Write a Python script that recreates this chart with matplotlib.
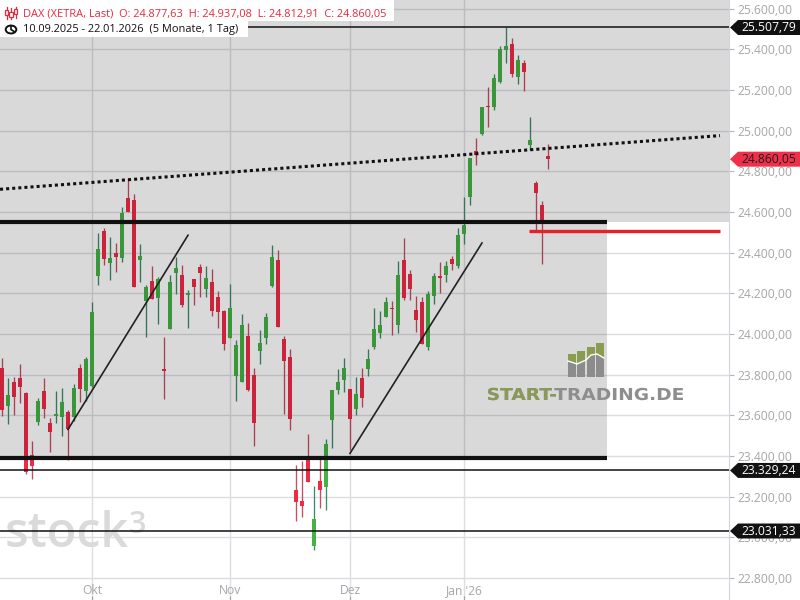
import matplotlib
matplotlib.use("Agg")
import matplotlib.pyplot as plt
from matplotlib.patches import Rectangle, Polygon, PathPatch, Circle
from matplotlib.lines import Line2D
from matplotlib.textpath import TextPath
from matplotlib.font_manager import FontProperties
from matplotlib.transforms import Affine2D, blended_transform_factory

plt.rcParams['font.family'] = ['Open Sans', 'DejaVu Sans']

# ---------------- data ----------------
opens = [23833, 23647, 23764, 23784, 23710, 23405, 23569, 23720, 23561, 23597,
         23592, 23615, 23593, 23833, 23721, 23746, 24287, 24505, 24351, 24398,
         24374, 24669, 24659, 24364, 24162, 24261, 24177, 23826, 24026, 24300,
         24290, 24192, 24271, 24330, 24221, 24256, 24182, 24115, 23980, 23793,
         23764, 23990, 23798, 23916, 23980, 24236, 24364, 23975, 23887, 23233,
         23178, 23390, 22957, 23277, 23247, 23577, 23724, 23774, 23729, 23631,
         23784, 23828, 23936, 24005, 24084, 24128, 24044, 24364, 24295, 24118,
         24157, 23936, 24187, 24285, 24290, 24369, 24334, 24492, 24674, 24900,
         24984, 25122, 25117, 25240, 25397, 25427, 25264, 25333, 24930, 24743,
         24635, 24877.63]
highs = [23882, 23784, 23788, 23852, 23716, 23474, 23685, 23784, 23587, 23720,
         23734, 23628, 23754, 23852, 23887, 24156, 24497, 24520, 24477, 24448,
         24625, 24768, 24689, 24443, 24241, 24334, 24280, 23985, 24290, 24379,
         24339, 24216, 24271, 24344, 24334, 24320, 24212, 24118, 24246, 23970,
         24098, 24054, 23833, 24020, 24103, 24438, 24413, 23990, 23926, 23356,
         23375, 23508, 23252, 23385, 23483, 23724, 23828, 23882, 23729, 23788,
         23833, 23926, 24128, 24113, 24182, 24162, 24359, 24472, 24315, 24187,
         24182, 24212, 24300, 24354, 24359, 24384, 24521, 24674, 24866, 24964,
         25117, 25215, 25279, 25417, 25507.79, 25456, 25372, 25348, 25067, 24753,
         24654, 24937.08]
lows = [23597, 23557, 23601, 23662, 23311, 23285, 23552, 23587, 23421, 23564,
        23500, 23382, 23573, 23667, 23672, 23741, 24243, 24341, 24267, 24305,
        24354, 24600, 24233, 24256, 23985, 24172, 24049, 23680, 24026, 24197,
        24133, 24030, 24143, 24182, 24182, 24089, 24030, 23921, 23980, 23670,
        23764, 23720, 23451, 23852, 23951, 24231, 24034, 23606, 23528, 23080,
        23100, 23272, 22937, 23144, 23134, 23439, 23705, 23715, 23429, 23601,
        23641, 23793, 23926, 23980, 24084, 23995, 24005, 24167, 24167, 24010,
        23951, 23921, 24148, 24202, 24256, 24315, 24325, 24443, 24635, 24831,
        24979, 25018, 25102, 25235, 25333, 25264, 25230, 25195, 24905, 24512,
        24344, 24812.91]
closes = [23628, 23700, 23690, 23741, 23322, 23352, 23670, 23632, 23519, 23605,
          23665, 23531, 23734, 23731, 23877, 24107, 24418, 24370, 24374, 24379,
          24594, 24600, 24233, 24384, 24231, 24172, 24271, 23820, 24256, 24325,
          24143, 24202, 24231, 24300, 24276, 24113, 24108, 23951, 24128, 23946,
          24044, 23724, 23564, 23956, 24084, 24379, 24034, 23867, 23582, 23173,
          23154, 23272, 23090, 23233, 23459, 23724, 23764, 23833, 23582, 23705,
          23685, 23877, 24025, 24044, 24157, 24123, 24290, 24177, 24221, 24069,
          23951, 24197, 24285, 24276, 24334, 24344, 24487, 24536, 24866, 24881,
          25117, 25117, 25259, 25402, 25417, 25279, 25348, 25289, 24954, 24694,
          24556, 24860.05]

month_pos = [15, 38, 58, 77]
month_labels = ["Okt", "Nov", "Dez", "Jan '26"]
y_ticks = list(range(22800, 25601, 200))

level_lines = [25507.79, 23329.24, 23031.33]
zone_top = 24551
zone_bottom = 23390
red_level = 24507
last_price = 24860.05

dotted_x = [-0.33, 119.67]
dotted_y = [24712, 24976]
trend1_x = [11, 31]
trend1_y = [23531, 24486]
trend2_x = [58, 80]
trend2_y = [23413, 24448]

header1 = "DAX (XETRA, Last)  O: 24.877,63  H: 24.937,08  L: 24.812,91  C: 24.860,05"
header2 = "10.09.2025 - 22.01.2026  (5 Monate, 1 Tag)"


def de(v):
    s = f"{v:,.2f}"
    return s.replace(",", "X").replace(".", ",").replace("X", ".")


# ---------------- figure ----------------
W, H = 800, 600
fig = plt.figure(figsize=(8, 6), dpi=100, facecolor='white')
ax = fig.add_axes([0, 0, 729 / W, 1])
XMIN, XMAX = -0.333, 121.17
YMIN, YMAX = 22692, 25643
ax.set_xlim(XMIN, XMAX)
ax.set_ylim(YMIN, YMAX)
ax.set_facecolor('white')

LBL = 8.7
ax.set_yticks(y_ticks)
ax.set_yticklabels([de(v) for v in y_ticks])
ax.yaxis.tick_right()
ax.tick_params(axis='y', direction='out', length=3.5, width=0.8, color='#b4b4bc',
               labelcolor='#a6a6a6', labelsize=LBL, pad=2.5)
ax.set_xticks(month_pos)
ax.tick_params(axis='x', direction='in', length=3, width=0.8, color='#a0a0a8',
               labelbottom=False)
for s in ['top', 'left', 'bottom']:
    ax.spines[s].set_visible(False)
ax.spines['right'].set_color('#d4d4dc')
ax.grid(True, color='#dcdce2', linewidth=1.0, zorder=0)
ax.set_axisbelow(True)

tx = blended_transform_factory(ax.transData, ax.transAxes)
for p, lab in zip(month_pos, month_labels):
    ax.text(p, 0.0165, lab, transform=tx, ha='center', va='center',
            color='#a6a6a6', fontsize=LBL)

# watermark stock3
ax.text(5 / 729, 53 / 600, "stock", transform=ax.transAxes, fontsize=35,
        fontweight='semibold', color='#dadada', va='baseline', ha='left', zorder=0.6)
ax.text(129 / 729, 67 / 600, "3", transform=ax.transAxes, fontsize=22,
        fontweight='semibold', color='#dadada', va='baseline', ha='left', zorder=0.6)

# candles
bw = 0.66
for i, (o, h, l, c) in enumerate(zip(opens, highs, lows, closes)):
    up = c >= o
    body_c = '#44b244' if up else '#ef2a47'
    wick_c = '#3f8a68' if up else '#c44e62'
    ax.vlines(i, l, h, color=wick_c, linewidth=0.95, zorder=2)
    bottom = min(o, c)
    height = max(abs(c - o), 5)
    ax.add_patch(Rectangle((i - bw / 2, bottom), bw, height, facecolor=body_c,
                           edgecolor='none', zorder=2.1))

# gray zones (translucent overlay)
ax.add_patch(Rectangle((XMIN, zone_top), XMAX - XMIN, YMAX - zone_top,
                       facecolor='black', alpha=0.15, edgecolor='none', zorder=2.5))
ax.add_patch(Rectangle((XMIN, zone_bottom), 100.83 - XMIN, zone_top - zone_bottom,
                       facecolor='black', alpha=0.15, edgecolor='none', zorder=2.5))

# lines
for v in level_lines:
    ax.axhline(v, color='#111111', linewidth=1.1, zorder=3)
ax.plot([XMIN, 100.83], [zone_top, zone_top], color='#111111', linewidth=3.0,
        solid_capstyle='butt', zorder=3)
ax.plot([XMIN, 100.83], [zone_bottom, zone_bottom], color='#111111', linewidth=3.0,
        solid_capstyle='butt', zorder=3)
ax.plot(dotted_x, dotted_y, color='#111111', linewidth=2.2, linestyle=(0, (1, 1)),
        dash_capstyle='butt', zorder=3)
ax.plot(trend1_x, trend1_y, color='#222222', linewidth=1.2, zorder=3)
ax.plot(trend2_x, trend2_y, color='#222222', linewidth=1.2, zorder=3)
ax.plot([87.83, 119.67], [red_level, red_level], color='#e8202a', linewidth=2.4,
        solid_capstyle='butt', zorder=3)

# price label boxes at the right
bt = blended_transform_factory(fig.transFigure, ax.transData)
hh = 7.5 * (YMAX - YMIN) / H


def price_box(v, fc, tc):
    pts = [(730 / W, v), (738 / W, v + hh), (1.0, v + hh), (1.0, v - hh), (738 / W, v - hh)]
    fig.add_artist(Polygon(pts, closed=True, transform=bt, facecolor=fc,
                           edgecolor='none', zorder=5))
    fig.text(741 / W, v, de(v), transform=bt, color=tc, fontsize=LBL,
             ha='left', va='center', zorder=6)


price_box(level_lines[0], '#111111', 'white')
price_box(last_price, '#f0304a', '#1a1a1a')
price_box(level_lines[1], '#111111', 'white')
price_box(level_lines[2], '#111111', 'white')

# header
def fx(x):
    return x / W


def fy(y):
    return 1 - y / H


fig.add_artist(Rectangle((0, fy(20.5)), fx(394), 20.5 / H, transform=fig.transFigure,
                         facecolor='white', edgecolor='none', zorder=5))
fig.add_artist(Rectangle((0, fy(37)), fx(248), 16.5 / H, transform=fig.transFigure,
                         facecolor='white', edgecolor='none', zorder=5))
fig.text(fx(23), fy(13.5), header1, color='#e8283c', fontsize=7.9, ha='left',
         va='center', zorder=6)
fig.text(fx(23), fy(29.5), header2, color='#111111', fontsize=7.9, ha='left',
         va='center', zorder=6)

# candlestick icon
red = '#e8283c'
for cx, (wt, wb, bt_, bb) in zip([6.5, 11, 15.5], [(7, 19, 10, 15), (8, 19, 12, 17), (7, 18, 9, 14)]):
    fig.add_artist(Line2D([fx(cx), fx(cx)], [fy(wt), fy(wb)], color=red, lw=0.9,
                          transform=fig.transFigure, zorder=6))
    fig.add_artist(Rectangle((fx(cx - 1.6), fy(bb)), 3.2 / W, (bb - bt_) / H,
                             transform=fig.transFigure, facecolor='white',
                             edgecolor=red, lw=0.9, zorder=7))
# clock icon
fig.add_artist(Circle((fx(11), fy(29.5)), 5.3 / W, transform=fig.transFigure,
                      facecolor='none', edgecolor='#111111', lw=1.4, zorder=6))
fig.add_artist(Line2D([fx(11), fx(11), fx(14)], [fy(26), fy(29.5), fy(31.5)],
                      color='#111111', lw=1.2, transform=fig.transFigure, zorder=6))

# START-TRADING.DE logo
pix = Affine2D().scale(1 / 100.0) + fig.dpi_scale_trans
fp = FontProperties(family='DejaVu Sans', weight='bold')
full = TextPath((0, 0), "START-TRADING.DE", size=16, prop=fp)
ext = full.get_extents()
sx = 195.0 / ext.width
sy = 12.0 / (0.729 * 16)
tr = Affine2D().translate(-ext.x0, 0).scale(sx, sy).translate(488, H - 400) + pix
fig.add_artist(PathPatch(full, transform=tr, facecolor='#8e8e8e', edgecolor='none', zorder=6))
part = TextPath((0, 0), "START-", size=16, prop=fp)
fig.add_artist(PathPatch(part, transform=tr, facecolor='#8a9858', edgecolor='none', zorder=7))

bars_x = [568, 577, 587, 596]
bars_top = [354, 351, 347, 343]
zig = [(568, 361), (577, 364), (586, 360), (591, 355), (597, 354), (604, 358)]


def zig_y(x):
    for (x0, y0), (x1, y1) in zip(zig[:-1], zig[1:]):
        if x0 <= x <= x1:
            return y0 + (y1 - y0) * (x - x0) / (x1 - x0)
    return zig[-1][1]


for bx, tp in zip(bars_x, bars_top):
    fig.add_artist(Rectangle((bx, H - 377), 8, 377 - tp, transform=pix,
                             facecolor='#8c8c8c', edgecolor='none', zorder=6))
    poly = [(bx, H - tp), (bx + 8, H - tp), (bx + 8, H - zig_y(bx + 8)), (bx, H - zig_y(bx))]
    fig.add_artist(Polygon(poly, closed=True, transform=pix, facecolor='#8a9c50',
                           edgecolor='none', zorder=7))
fig.add_artist(Line2D([p[0] for p in zig], [H - p[1] for p in zig], color='white',
                      lw=1.0, transform=pix, zorder=8))

fig.savefig("out.png", dpi=100, facecolor='white')
